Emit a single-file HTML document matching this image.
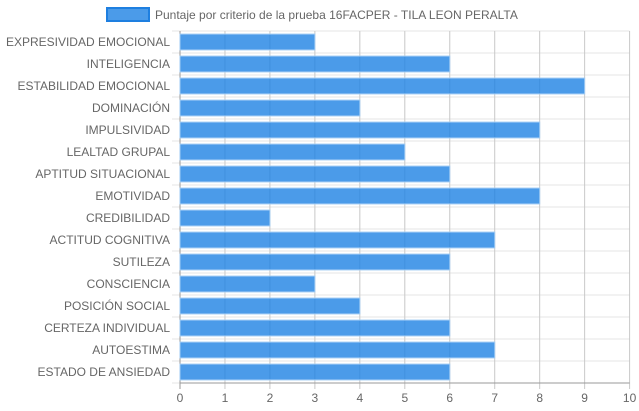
<!DOCTYPE html>
<html><head><meta charset="utf-8"><style>
body{margin:0;background:#fff;width:639px;height:411px;overflow:hidden}
svg{display:block;font-family:"Liberation Sans",Arial,sans-serif}
</style></head><body>
<svg id="chart" width="639" height="411">
<g id="legend">
<rect x="107" y="8" width="42" height="13" fill="rgba(30,130,228,0.8)" stroke="#1e7fe0" stroke-width="2"/>
<text x="155" y="19" font-size="12" fill="#666">Puntaje por criterio de la prueba 16FACPER - TILA LEON PERALTA</text>
</g>
<g id="grid"></g><g id="bars"></g><g id="labels"></g>
</svg>
<script>
const categories=["EXPRESIVIDAD EMOCIONAL","INTELIGENCIA","ESTABILIDAD EMOCIONAL","DOMINACIÓN","IMPULSIVIDAD","LEALTAD GRUPAL","APTITUD SITUACIONAL","EMOTIVIDAD","CREDIBILIDAD","ACTITUD COGNITIVA","SUTILEZA","CONSCIENCIA","POSICIÓN SOCIAL","CERTEZA INDIVIDUAL","AUTOESTIMA","ESTADO DE ANSIEDAD"];
const values=[3,6,9,4,8,5,6,8,2,7,6,3,4,6,7,6];
const ticks=[0,1,2,3,4,5,6,7,8,9,10];
const NS="http://www.w3.org/2000/svg";
const X0=180,X1=629.6,Y0=31,Y1=383,MAX=10;
const x=v=>X0+(v/MAX)*(X1-X0);
const band=(Y1-Y0)/categories.length;
const y=i=>Y0+i*band;
function mk(t,a,p){const e=document.createElementNS(NS,t);for(const k in a)e.setAttribute(k,a[k]);p.appendChild(e);return e;}
const G=document.getElementById('grid'),B=document.getElementById('bars'),L=document.getElementById('labels');
for(let i=0;i<=categories.length;i++){
 const l=mk('line',{x1:X0-8,x2:X1,y1:y(i),y2:y(i),stroke:'#e6e6e6','stroke-width':1},G);
 
 
}
ticks.forEach(t=>{
 const l=mk('line',{x1:x(t),x2:x(t),y1:Y0,y2:Y1+6,stroke:t===0?'#999':'#c8c8c8','stroke-width':1},G);
 
 
 const tx=mk('text',{x:x(t),y:Y1+19,'font-size':12,fill:'#666','text-anchor':'middle'},L);
 tx.textContent=t;
 
 
});
mk('line',{x1:X0,x2:X1,y1:Y1,y2:Y1,stroke:'#999'},G);
categories.forEach((c,i)=>{
 const cy=y(i)+band/2, h=band*0.72;
 const r=mk('rect',{x:x(0),y:cy-h/2,width:x(values[i])-x(0),height:h,fill:'rgba(30,130,228,0.8)',stroke:'#9fcbf4','stroke-width':1},B);
 
 
 const tx=mk('text',{x:X0-10,y:cy+4,'font-size':12,fill:'#666','text-anchor':'end'},L);
 tx.textContent=c;
 
 
});
</script>
</body></html>
